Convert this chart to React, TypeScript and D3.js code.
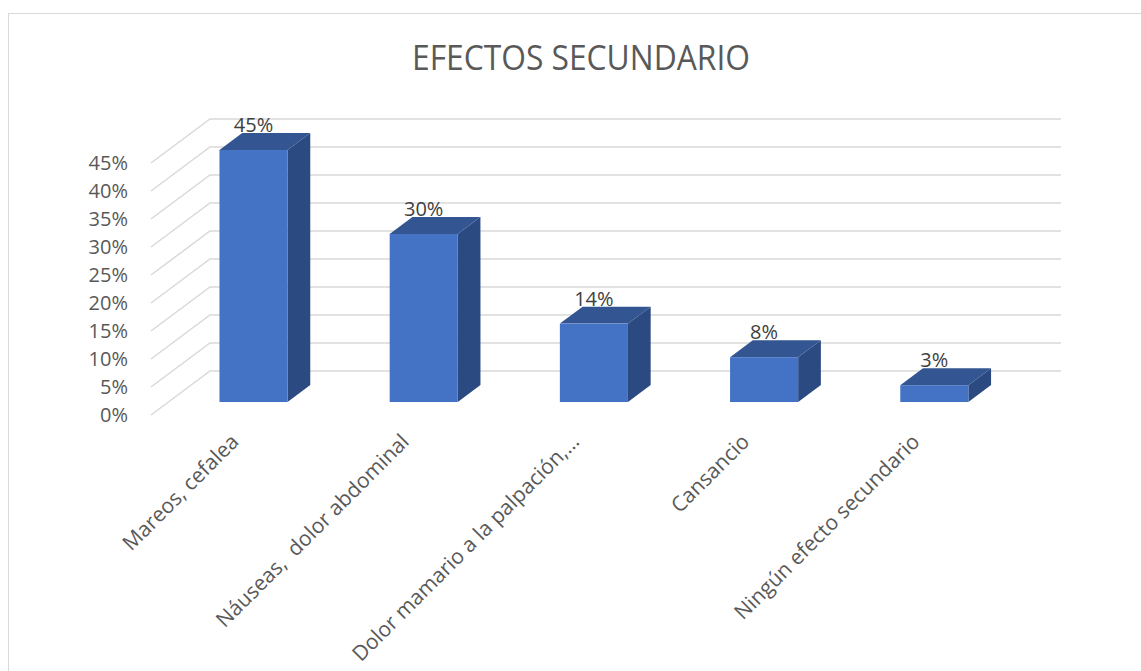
import React, { useEffect, useRef } from 'react';
import * as d3 from 'd3';

const categories = [
  'Mareos, cefalea',
  'Náuseas,  dolor abdominal',
  'Dolor mamario a la palpación,…',
  'Cansancio',
  'Ningún efecto secundario',
];
const values = [45, 30, 14, 8, 3];
const yTicks = [0, 5, 10, 15, 20, 25, 30, 35, 40, 45];
const title = 'EFECTOS SECUNDARIO';

function App() {
  const ref = useRef<SVGSVGElement>(null);

  useEffect(() => {
    const width = 1141, height = 671;
    // oblique depth vector (full floor depth)
    const DX = 59, DY = -44;
    const f0 = 0.295, f1 = 0.68;

    const svg = d3.select(ref.current);
    svg.selectAll('*').remove();
    svg.attr('width', width).attr('height', height);

    svg.append('rect')
      .attr('x', 8.5).attr('y', 13.5)
      .attr('width', 1140).attr('height', 670)
      .attr('fill', '#fff')
      .attr('stroke', '#d9d9d9');

    const x = d3.scaleBand<string>()
      .domain(categories)
      .range([151, 1002]);

    const y = d3.scaleLinear()
      .domain([0, 45])
      .range([415, 163]);

    svg.append('text')
      .attr('x', 581).attr('y', 70)
      .attr('text-anchor', 'middle')
      .attr('font-family', '"Open Sans", sans-serif')
      .attr('font-size', 34)
      .attr('textLength', 338)
      .attr('lengthAdjust', 'spacingAndGlyphs')
      .attr('fill', '#595959')
      .text(title);

    // gridlines: floor-side diagonal + back wall
    const grid = svg.append('g').attr('stroke', '#d9d9d9').attr('stroke-width', 1.5).attr('fill', 'none');
    const [x0, x1] = x.range();
    yTicks.forEach(t => {
      grid.append('path')
        .attr('d', `M${x0},${y(t)} L${x0 + DX},${y(t) + DY} L${x1 + DX},${y(t) + DY}`);
    });

    svg.append('g').selectAll('text')
      .data(yTicks)
      .join('text')
      .attr('x', 128)
      .attr('y', d => y(d) + 7)
      .attr('text-anchor', 'end')
      .attr('font-family', '"Open Sans", sans-serif')
      .attr('font-size', 20)
      .attr('fill', '#595959')
      .text(d => d + '%');

    const bw = x.bandwidth();
    const w = bw * 0.4;
    const bars = svg.append('g');
    categories.forEach((c, i) => {
      const v = values[i];
      const cx = x(c)! + bw / 2;
      const l = cx - w / 2 + f0 * DX, r = cx + w / 2 + f0 * DX;
      const top = y(v) + f0 * DY, bot = y(0) + f0 * DY;
      const ddx = (f1 - f0) * DX, ddy = (f1 - f0) * DY;

      bars.append('path')
        .attr('d', `M${r},${top} L${r + ddx},${top + ddy} L${r + ddx},${bot + ddy} L${r},${bot} Z`)
        .attr('fill', '#2b4a82');
      bars.append('path')
        .attr('d', `M${l},${top} L${l + ddx},${top + ddy} L${r + ddx},${top + ddy} L${r},${top} Z`)
        .attr('fill', '#335693');
      bars.append('rect')
        .attr('x', l).attr('y', top)
        .attr('width', w).attr('height', bot - top)
        .attr('fill', '#4472c4');

      svg.append('text')
        .attr('x', cx + f0 * DX)
        .attr('y', y(v) + f1 * DY - 1)
        .attr('text-anchor', 'middle')
        .attr('font-family', '"Open Sans", sans-serif')
        .attr('font-size', 20)
        .attr('fill', '#404040')
        .text(v + '%');

      svg.append('text')
        .attr('transform', `translate(${cx + 4},${443}) rotate(-45)`)
        .attr('text-anchor', 'end')
        .attr('font-family', '"Open Sans", sans-serif')
        .attr('font-size', 21)
        .attr('fill', '#595959')
        .attr('xml:space', 'preserve')
        .style('white-space', 'pre')
        .text(c);
    });
  }, []);

  return (
    <div style={{ position: 'absolute', left: 0, top: 0 }}>
      <svg ref={ref} style={{ display: 'block' }}></svg>
    </div>
  );
}

export default App;
